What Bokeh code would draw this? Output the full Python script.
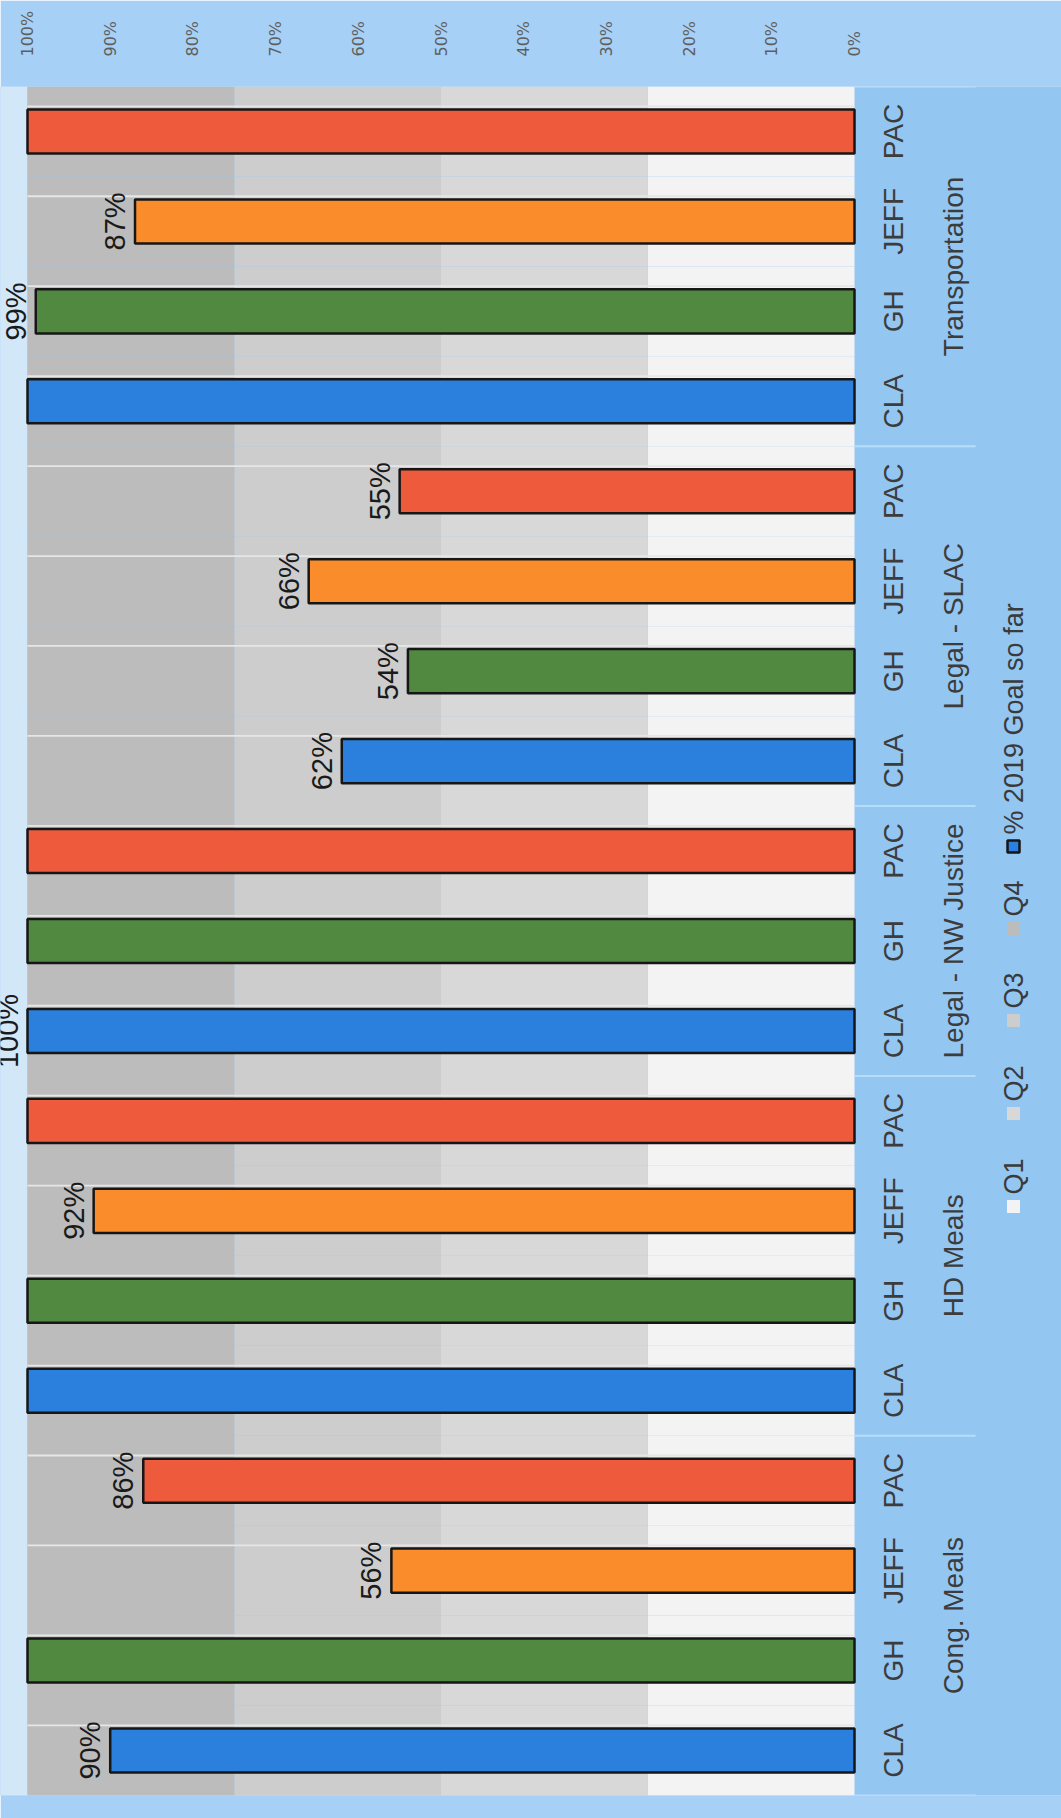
import math
from bokeh.plotting import figure
from bokeh.models import (FactorRange, Range1d, FixedTicker,
                          PrintfTickFormatter, ColumnDataSource)
from bokeh.transform import dodge
from bokeh.core.properties import value
from bokeh.embed import file_html
from bokeh.resources import INLINE

# ---------------- data ----------------
groups = ["Cong. Meals", "HD Meals", "Legal - NW Justice", "Legal - SLAC", "Transportation"]
members = [
    ["CLA", "GH", "JEFF", "PAC"],
    ["CLA", "GH", "JEFF", "PAC"],
    ["CLA", "GH", "PAC"],
    ["CLA", "GH", "JEFF", "PAC"],
    ["CLA", "GH", "JEFF", "PAC"],
]
goal_pct = [90, 100, 56, 86,
            100, 100, 92, 100,
            100, 100, 100,
            62, 54, 66, 55,
            100, 99, 87, 100]
goal_labels = ["90%", "", "56%", "86%",
               "", "", "92%", "",
               "100%", "", "",
               "62%", "54%", "66%", "55%",
               "", "99%", "87%", ""]
quarter_names = ["Q1", "Q2", "Q3", "Q4"]
quarter_size = [25, 25, 25, 25]
series_name = "% 2019 Goal so far"
x_ticks = [0, 10, 20, 30, 40, 50, 60, 70, 80, 90, 100]

# ---------------- styles ----------------
org_colors = {"CLA": "#2b7fdd", "GH": "#50893f", "JEFF": "#fb8c2b", "PAC": "#ee5a3c"}
band_colors = ["#f3f3f3", "#d8d8d8", "#cdcdcd", "#bcbcbc"]
BLUE_BG = "#94c6f2"
TOP_BG = "#a6d0f5"
FONT = "Liberation Sans Narrow, Liberation Sans, sans-serif"

W, H = 1061, 1818
FRAME_TOP, FRAME_BOTTOM = 86, 1795
X_ZERO_PX, X_FULL_PX = 854, 27
PX_PER = (X_ZERO_PX - X_FULL_PX) / 100.0
x_start = 100 + X_FULL_PX / PX_PER
x_end = -(W - X_ZERO_PX) / PX_PER

factors = [(g, m) for g, ms in zip(groups, members) for m in ms]
n = len(factors)
slot_px = (FRAME_BOTTOM - FRAME_TOP) / n


def dx(px):
    return (X_ZERO_PX - px) / PX_PER


def dy(py):
    return (FRAME_BOTTOM - py) / slot_px


p = figure(width=W, height=H, output_backend="svg", toolbar_location=None,
           x_range=Range1d(x_start, x_end),
           y_range=FactorRange(*factors, factor_padding=0, group_padding=0,
                               subgroup_padding=0, range_padding=0),
           x_axis_location="above", y_axis_location=None,
           min_border_left=0, min_border_right=0,
           min_border_top=FRAME_TOP, min_border_bottom=H - FRAME_BOTTOM)
p.background_fill_color = BLUE_BG
p.border_fill_color = TOP_BG
p.outline_line_color = None
p.xgrid.visible = False
p.ygrid.visible = False

# lighter strip at far left (paper edge)
p.quad(left=[100], right=[x_start], bottom=[0], top=[n], color="#d2e8f9", line_color=None)

# quarter bands (Q1..Q4 stacked per category)
band_src = ColumnDataSource(dict(cat=factors, **{q: [s] * n for q, s in zip(quarter_names, quarter_size)}))
p.hbar_stack(quarter_names, y="cat", height=1.0, color=band_colors, line_color=None,
             source=band_src)

# faint light line just above each bar
p.hbar(y=dodge("cat", 0.28, range=p.y_range), left=0, right=100, height=0.02,
       color="#e6e6e6", line_color=None, source=band_src)

# goal bars
bar_src = ColumnDataSource(dict(cat=factors, pct=goal_pct, label=goal_labels,
                                org=[m for _, m in factors],
                                color=[org_colors[m] for _, m in factors]))
p.hbar(y="cat", left=0, right="pct", height=0.49, fill_color="color",
       line_color="#161616", line_width=2.5, source=bar_src)

# value labels
p.text(x="pct", y="cat", text="label", source=bar_src, angle=math.pi / 2,
       x_offset=-20, text_align="center", text_baseline="middle",
       text_font=value(FONT), text_font_size="29px", text_color="#1a1a1a")

# category labels (inner level) and group labels, rotated like the reference
p.text(x=dx(893), y="cat", text="org", source=bar_src, angle=math.pi / 2,
       text_align="center", text_baseline="middle", text_font=value(FONT),
       text_font_size="28px", text_color="#3c3c3c")
p.text(x=[dx(953)] * len(groups), y=groups, text=groups, angle=math.pi / 2,
       text_align="center", text_baseline="middle", text_font=value(FONT),
       text_font_size="28px", text_color="#3c3c3c")

# group separators on category axis
bounds = [0]
for ms in members:
    bounds.append(bounds[-1] + len(ms))
p.segment(x0=[0] * len(bounds), x1=[dx(975)] * len(bounds), y0=bounds, y1=bounds,
          line_color="#b9ddf9", line_width=2)

# top value axis
xa = p.xaxis[0]
xa.ticker = FixedTicker(ticks=x_ticks)
xa.formatter = PrintfTickFormatter(format="%d%%")
xa.major_label_orientation = math.pi / 2
xa.major_label_standoff = 24
xa.major_label_text_font = "DejaVu Sans"
xa.major_label_text_font_size = "16px"
xa.major_label_text_color = "#5e5e5e"
xa.axis_line_color = None
xa.major_tick_line_color = None
xa.minor_tick_line_color = None

# legend (rotated, drawn in data space)
leg_names = quarter_names + [series_name]
leg_fill = band_colors + [org_colors["CLA"]]
leg_line = [None, None, None, None, "#161616"]
leg_py = [1206, 1113, 1020, 928, 846]
leg_x = dx(1013)
for name, fc, lc, py in zip(leg_names, leg_fill, leg_line, leg_py):
    if lc:
        p.rect(x=[leg_x], y=[dy(py)], width=12, height=12, width_units="screen",
               height_units="screen", fill_color=fc, line_color=lc, line_width=2.5)
    else:
        p.rect(x=[leg_x], y=[dy(py)], width=13, height=13, width_units="screen",
               height_units="screen", fill_color=fc, line_color=None)
    p.text(x=[leg_x], y=[dy(py)], text=[name], angle=math.pi / 2, y_offset=-12,
           text_align="left", text_baseline="middle", text_font=value(FONT),
           text_font_size="27px", text_color="#3a3a3a")

open("out.html", "w").write(file_html(p, INLINE))
